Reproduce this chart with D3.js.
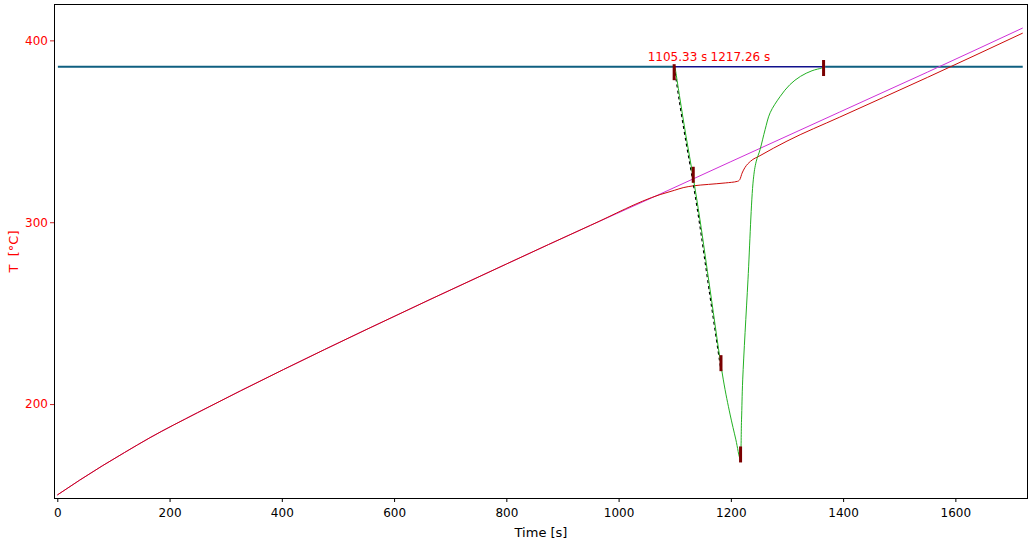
<!DOCTYPE html>
<html>
<head>
<meta charset="utf-8">
<script src="https://cdn.jsdelivr.net/npm/d3@7/dist/d3.min.js"></script>
<style>
  html, body { margin: 0; padding: 0; background: #fff; }
  svg { display: block; font-family: "DejaVu Sans", sans-serif; }
</style>
</head>
<body>
<svg id="chart" width="1032" height="544"></svg>
<script>
// ---------- data ----------
const timeTicks = [0, 200, 400, 600, 800, 1000, 1200, 1400, 1600];
const tempTicks = [200, 300, 400];

// reference (magenta) temperature curve
const refTime = [0, 40, 80, 120, 165, 250, 403, 550, 664, 800, 950, 1074, 1200, 1394, 1550, 1720];
const refTemp = [150.0, 158.2, 166.0, 173.4, 181.5, 195.3, 219.0, 240.9, 257.5, 277.0, 298.3, 315.5, 333.3, 360.6, 382.5, 406.8];

// sample (red) temperature curve
const sampleTime = [0, 40, 80, 120, 165, 250, 403, 550, 664, 800, 950, 1074, 1100, 1115, 1133, 1160, 1190, 1212, 1216, 1220, 1225, 1235, 1252, 1300, 1394, 1550, 1720];
const sampleTemp = [150.0, 158.2, 166.0, 173.4, 181.5, 195.3, 219.0, 240.9, 257.5, 277.0, 298.3, 315.2, 317.6, 319.0, 320.0, 320.8, 321.6, 322.5, 323.5, 327.0, 330.0, 333.5, 336.6, 344.6, 357.8, 379.6, 404.0];

// DTA / peak (green) curve
const peakTime = [1100.5, 1109, 1120, 1133, 1145, 1163, 1186.6, 1198.5, 1209, 1216.3, 1219, 1221.1, 1230.5, 1240, 1245, 1252, 1261, 1270, 1288, 1305, 1324, 1344.6, 1362, 1366];
const peakTemp = [385.5, 368.5, 347.5, 324.4, 301.3, 262.8, 213.3, 194.5, 180.3, 170.3, 191.3, 213.3, 268.3, 323.3, 333.2, 339.9, 350.9, 360.2, 369.2, 375.6, 380.2, 383.3, 384.8, 385.3];

// baseline level
const baseLevel = 385.5;
const baseStart = 1, baseEnd = 1720;
const peakStart = 1101, peakEnd = 1366;

// tangent (black dashed) segment along the falling edge
const tangentTime = [1101, 1109, 1120, 1133, 1145, 1163, 1184];
const tangentTemp = [385.5, 368.5, 347.5, 324.4, 301.3, 262.8, 219.0];

// markers
const markerTime = [1099, 1133, 1182.4, 1217.3, 1365.2];
const markerTemp = [382.5, 326.1, 222.5, 172.3, 384.8];

// annotation labels
const labelValues = [1105.33, 1217.26];

// ---------- layout ----------
const plot = { left: 54, top: 4, right: 1028, bottom: 499 };

const x = d3.scaleLinear().domain([-5.9, 1729.4]).range([plot.left, plot.right]);
const y = d3.scaleLinear().domain([147.8, 420.0]).range([plot.bottom, plot.top]);

const svg = d3.select("#chart");

svg.append("defs").append("clipPath").attr("id", "plotclip")
  .append("rect")
  .attr("x", plot.left).attr("y", plot.top)
  .attr("width", plot.right - plot.left).attr("height", plot.bottom - plot.top);

// axes
const xAxis = d3.axisBottom(x).tickValues(timeTicks).tickSize(3).tickPadding(6).tickFormat(d3.format("d"));
const gx = svg.append("g").attr("transform", `translate(0,${plot.bottom})`).call(xAxis);
gx.select(".domain").remove();
gx.selectAll("text").attr("font-size", 12).attr("font-family", "DejaVu Sans").attr("fill", "#000");
gx.selectAll("line").attr("stroke", "#000");

const yAxis = d3.axisLeft(y).tickValues(tempTicks).tickSize(4).tickPadding(2).tickFormat(d3.format("d"));
const gy = svg.append("g").attr("transform", `translate(${plot.left},0)`).call(yAxis);
gy.select(".domain").remove();
gy.selectAll("text").attr("font-size", 12).attr("font-family", "DejaVu Sans").attr("fill", "#ff0000");
gy.selectAll("line").attr("stroke", "#cc2222");

// frame
svg.append("rect")
  .attr("x", plot.left + 0.5).attr("y", plot.top + 0.5)
  .attr("width", plot.right - plot.left - 1).attr("height", plot.bottom - plot.top - 1)
  .attr("fill", "none").attr("stroke", "#000").attr("stroke-width", 1);

// axis titles
svg.append("text")
  .attr("x", (plot.left + plot.right) / 2).attr("y", 536.5)
  .attr("text-anchor", "middle").attr("font-size", 13).attr("fill", "#000")
  .text("Time [s]");
svg.append("text")
  .attr("transform", `translate(18,${(plot.top + plot.bottom) / 2}) rotate(-90)`)
  .attr("text-anchor", "middle").attr("font-size", 13).attr("fill", "#ff0000")
  .attr("xml:space", "preserve")
  .text("T  [°C]");

const g = svg.append("g").attr("clip-path", "url(#plotclip)");

const zip = (a, b) => a.map((v, i) => [v, b[i]]);
const lineStraight = d3.line().x(d => x(d[0])).y(d => y(d[1]));
const lineSmooth = d3.line().x(d => x(d[0])).y(d => y(d[1])).curve(d3.curveMonotoneX);
const lineCR = d3.line().x(d => x(d[0])).y(d => y(d[1])).curve(d3.curveCatmullRom);

// baseline (teal) outside peak
g.append("path")
  .datum([[baseStart, baseLevel], [peakStart - 3, baseLevel]])
  .attr("d", lineStraight).attr("fill", "none").attr("stroke", "#0f5f80").attr("stroke-width", 2);
g.append("path")
  .datum([[peakEnd + 2, baseLevel], [baseEnd, baseLevel]])
  .attr("d", lineStraight).attr("fill", "none").attr("stroke", "#0f5f80").attr("stroke-width", 2);

// reference and sample curves
g.append("path").datum(zip(refTime, refTemp))
  .attr("d", lineSmooth).attr("fill", "none")
  .attr("stroke", "#d030d8").attr("stroke-width", 1);
g.append("path").datum(zip(sampleTime, sampleTemp))
  .attr("d", lineSmooth).attr("fill", "none")
  .attr("stroke", "#cc0a0a").attr("stroke-width", 1);

// tangent dashed
g.append("path").datum(zip(tangentTime, tangentTemp))
  .attr("d", lineCR).attr("fill", "none")
  .attr("transform", "translate(-1,0)")
  .attr("stroke", "#000").attr("stroke-width", 1.2).attr("stroke-dasharray", "3,3");

// green peak
g.append("path").datum(zip(peakTime, peakTemp))
  .attr("d", lineCR).attr("fill", "none")
  .attr("stroke", "#22b022").attr("stroke-width", 1);

// navy baseline inside the peak
g.append("path")
  .datum([[peakStart - 3, baseLevel], [peakEnd + 2, baseLevel]])
  .attr("d", lineStraight).attr("fill", "none").attr("stroke", "#10108c").attr("stroke-width", 1.3);

// markers
g.selectAll("rect.marker").data(zip(markerTime, markerTemp)).enter()
  .append("rect").attr("class", "marker")
  .attr("x", d => x(d[0]) - 1.5).attr("y", d => y(d[1]) - 8)
  .attr("width", 3).attr("height", 16)
  .attr("fill", "#7a0000");

// labels with white boxes, clipped
const lab = svg.append("g");
labelValues.forEach((v, i) => {
  const cx = x(v);
  lab.append("clipPath").attr("id", "lc" + i)
    .append("rect").attr("x", cx - 34).attr("y", 46).attr("width", 70).attr("height", 18);
  lab.append("rect").attr("x", cx - 34).attr("y", 47).attr("width", 70).attr("height", 17).attr("fill", "#fff");
  lab.append("text").attr("clip-path", `url(#lc${i})`)
    .attr("x", cx - 30).attr("y", 61)
    .attr("font-size", 12).attr("fill", "#ff0000")
    .text(v.toFixed(2) + " s");
});
</script>
</body>
</html>
